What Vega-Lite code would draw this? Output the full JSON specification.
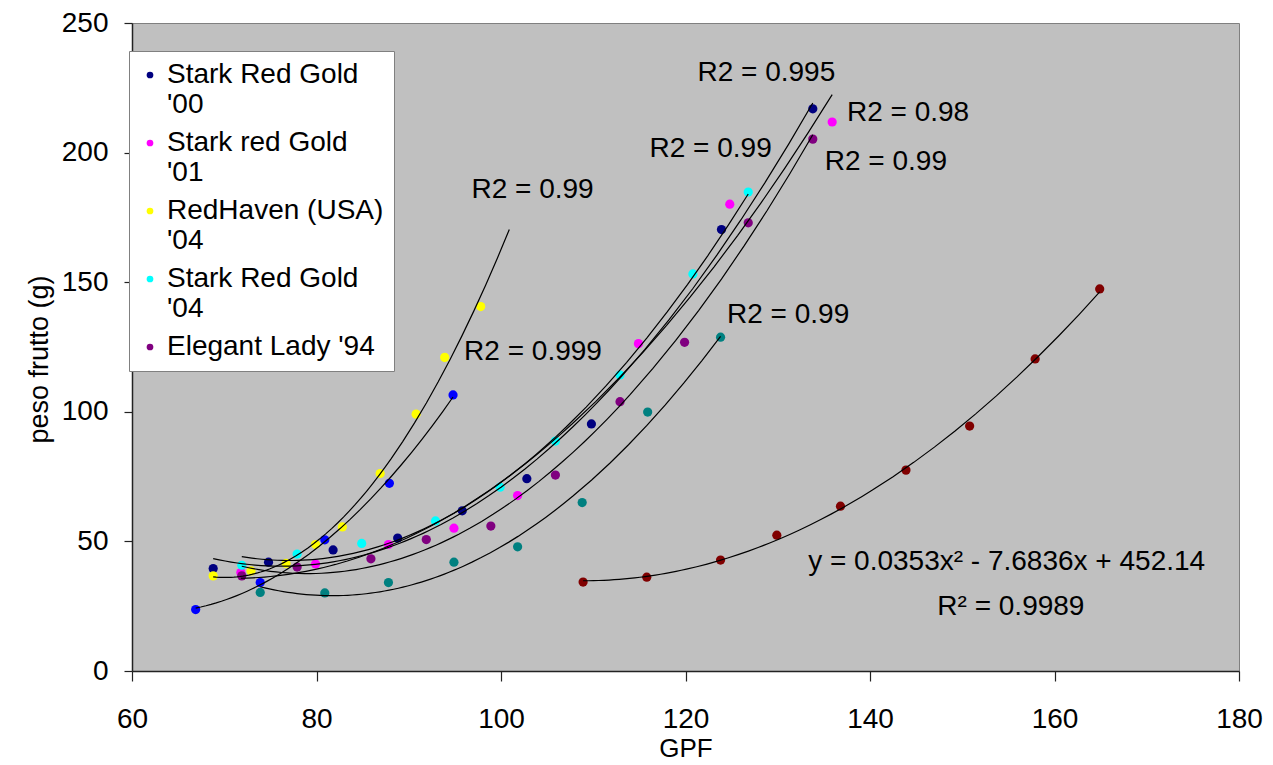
{
  "$schema": "https://vega.github.io/schema/vega-lite/v6.json",
  "width": 1107,
  "height": 648,
  "autosize": "none",
  "padding": {"left": 132, "top": 23, "right": 34, "bottom": 94},
  "background": "white",
  "config": {
    "view": {"fill": "#C0C0C0", "stroke": "#808080", "strokeWidth": 1},
    "font": "Liberation Sans",
    "axis": {
      "grid": false,
      "labelFont": "Liberation Sans",
      "labelFontSize": 28,
      "labelColor": "black",
      "titleFont": "Liberation Sans",
      "titleFontWeight": "normal",
      "titleColor": "black",
      "domainColor": "#222222",
      "tickColor": "#222222",
      "domainWidth": 1.5,
      "tickWidth": 1.2
    }
  },
  "datasets": {
    "points": [
      {"series": "Stark Red Gold '00", "x": 68.8, "y": 39.5},
      {"series": "Stark Red Gold '00", "x": 74.8, "y": 42.0},
      {"series": "Stark Red Gold '00", "x": 81.8, "y": 46.7},
      {"series": "Stark Red Gold '00", "x": 88.8, "y": 51.3},
      {"series": "Stark Red Gold '00", "x": 95.8, "y": 61.8},
      {"series": "Stark Red Gold '00", "x": 102.8, "y": 74.2},
      {"series": "Stark Red Gold '00", "x": 109.8, "y": 95.3},
      {"series": "Stark Red Gold '00", "x": 123.9, "y": 170.3},
      {"series": "Stark Red Gold '00", "x": 133.8, "y": 216.9},
      {"series": "Stark red Gold '01", "x": 71.8, "y": 38.0},
      {"series": "Stark red Gold '01", "x": 79.9, "y": 41.3},
      {"series": "Stark red Gold '01", "x": 87.8, "y": 48.8},
      {"series": "Stark red Gold '01", "x": 94.9, "y": 55.1},
      {"series": "Stark red Gold '01", "x": 101.8, "y": 67.7},
      {"series": "Stark red Gold '01", "x": 114.9, "y": 126.3},
      {"series": "Stark red Gold '01", "x": 124.8, "y": 180.1},
      {"series": "Stark red Gold '01", "x": 135.9, "y": 211.8},
      {"series": "RedHaven (USA) '04", "x": 68.8, "y": 36.7},
      {"series": "RedHaven (USA) '04", "x": 72.9, "y": 38.6},
      {"series": "RedHaven (USA) '04", "x": 76.7, "y": 41.5},
      {"series": "RedHaven (USA) '04", "x": 79.9, "y": 48.8},
      {"series": "RedHaven (USA) '04", "x": 82.8, "y": 55.6},
      {"series": "RedHaven (USA) '04", "x": 86.9, "y": 76.2},
      {"series": "RedHaven (USA) '04", "x": 90.8, "y": 99.1},
      {"series": "RedHaven (USA) '04", "x": 93.9, "y": 121.0},
      {"series": "RedHaven (USA) '04", "x": 97.8, "y": 140.6},
      {"series": "Stark Red Gold '04", "x": 71.9, "y": 40.8},
      {"series": "Stark Red Gold '04", "x": 77.9, "y": 45.1},
      {"series": "Stark Red Gold '04", "x": 84.9, "y": 49.2},
      {"series": "Stark Red Gold '04", "x": 92.9, "y": 57.9},
      {"series": "Stark Red Gold '04", "x": 99.9, "y": 70.9},
      {"series": "Stark Red Gold '04", "x": 105.9, "y": 88.7},
      {"series": "Stark Red Gold '04", "x": 112.9, "y": 114.2},
      {"series": "Stark Red Gold '04", "x": 120.8, "y": 153.2},
      {"series": "Stark Red Gold '04", "x": 126.8, "y": 184.8},
      {"series": "Elegant Lady '94", "x": 71.9, "y": 36.7},
      {"series": "Elegant Lady '94", "x": 77.9, "y": 40.1},
      {"series": "Elegant Lady '94", "x": 85.9, "y": 43.3},
      {"series": "Elegant Lady '94", "x": 91.9, "y": 50.7},
      {"series": "Elegant Lady '94", "x": 98.9, "y": 55.9},
      {"series": "Elegant Lady '94", "x": 105.9, "y": 75.6},
      {"series": "Elegant Lady '94", "x": 112.9, "y": 103.9},
      {"series": "Elegant Lady '94", "x": 119.9, "y": 126.8},
      {"series": "Elegant Lady '94", "x": 126.8, "y": 172.9},
      {"series": "Elegant Lady '94", "x": 133.8, "y": 205.2},
      {"series": "Serie 6", "x": 66.9, "y": 23.7},
      {"series": "Serie 6", "x": 73.9, "y": 34.1},
      {"series": "Serie 6", "x": 80.9, "y": 50.6},
      {"series": "Serie 6", "x": 87.9, "y": 72.4},
      {"series": "Serie 6", "x": 94.8, "y": 106.5},
      {"series": "Serie 7", "x": 73.9, "y": 30.3},
      {"series": "Serie 7", "x": 80.9, "y": 30.1},
      {"series": "Serie 7", "x": 87.8, "y": 34.1},
      {"series": "Serie 7", "x": 94.9, "y": 42.0},
      {"series": "Serie 7", "x": 101.8, "y": 47.9},
      {"series": "Serie 7", "x": 108.8, "y": 65.0},
      {"series": "Serie 7", "x": 115.9, "y": 99.9},
      {"series": "Serie 7", "x": 123.8, "y": 128.8},
      {"series": "Serie 8", "x": 108.9, "y": 34.3},
      {"series": "Serie 8", "x": 115.8, "y": 36.2},
      {"series": "Serie 8", "x": 123.8, "y": 42.8},
      {"series": "Serie 8", "x": 129.9, "y": 52.4},
      {"series": "Serie 8", "x": 136.8, "y": 63.6},
      {"series": "Serie 8", "x": 143.9, "y": 77.5},
      {"series": "Serie 8", "x": 150.8, "y": 94.5},
      {"series": "Serie 8", "x": 157.9, "y": 120.4},
      {"series": "Serie 8", "x": 164.9, "y": 147.4}
    ],
    "labels": [
      {"label": "R2 = 0.995", "x": 121.3, "y": 230.7},
      {"label": "R2 = 0.98", "x": 137.5, "y": 215.4},
      {"label": "R2 = 0.99", "x": 116.1, "y": 201.5},
      {"label": "R2 = 0.99", "x": 135.1, "y": 196.3},
      {"label": "R2 = 0.99", "x": 96.8, "y": 185.7},
      {"label": "R2 = 0.999", "x": 96.0, "y": 123.2},
      {"label": "R2 = 0.99", "x": 124.5, "y": 137.4},
      {"label": "y = 0.0353x² - 7.6836x + 452.14", "x": 133.3, "y": 42.0},
      {"label": "R² = 0.9989", "x": 147.3, "y": 24.7}
    ]
  },
  "encoding": {
    "x": {
      "field": "x",
      "type": "quantitative",
      "scale": {"domain": [60, 180], "nice": false, "zero": false},
      "axis": {
        "values": [60, 80, 100, 120, 140, 160, 180],
        "title": "GPF",
        "titleFontSize": 26,
        "titleBaseline": "middle",
        "titleY": 77,
        "tickSize": 10,
        "labelPadding": 24,
        "labelFlush": false
      }
    },
    "y": {
      "field": "y",
      "type": "quantitative",
      "scale": {"domain": [0, 250], "nice": false, "zero": false},
      "axis": {
        "values": [0, 50, 100, 150, 200, 250],
        "title": "peso frutto (g)",
        "titleFontSize": 27,
        "titleBaseline": "bottom",
        "titleX": -79,
        "titleY": 336,
        "tickSize": 8,
        "labelPadding": 16,
        "labelFlush": false
      }
    }
  },
  "layer": [
    {
      "data": {"name": "points"},
      "mark": {"type": "point", "filled": true, "size": 85, "opacity": 1},
      "encoding": {
        "color": {
          "field": "series",
          "type": "nominal",
          "scale": {
            "domain": ["Stark Red Gold '00", "Stark red Gold '01", "RedHaven (USA) '04", "Stark Red Gold '04", "Elegant Lady '94", "Serie 6", "Serie 7", "Serie 8"],
            "range": ["#000080", "#FF00FF", "#FFFF00", "#00FFFF", "#800080", "#0000FF", "#008080", "#800000"]
          },
          "legend": {
            "values": ["Stark Red Gold '00", "Stark red Gold '01", "RedHaven (USA) '04", "Stark Red Gold '04", "Elegant Lady '94"],
            "orient": "none",
            "legendX": -3,
            "legendY": 28,
            "title": null,
            "fillColor": "white",
            "strokeColor": "#808080",
            "padding": 10,
            "symbolType": "circle",
            "symbolSize": 45,
            "symbolStrokeWidth": 0,
            "symbolOffset": -3,
            "labelFont": "Liberation Sans",
            "labelFontSize": 28,
            "labelColor": "black",
            "labelLimit": 400,
            "labelOffset": 3,
            "labelBaseline": "middle",
            "rowPadding": 10,
            "labelExpr": "indexof(datum.label, 'Elegant') == 0 ? datum.label : [substring(datum.label, 0, lastindexof(datum.label, ' ')), substring(datum.label, lastindexof(datum.label, ' ') + 1)]"
          }
        }
      }
    },
    {
      "data": {"name": "points"},
      "transform": [
        {"filter": "datum.series != \"RedHaven (USA) '04\""},
        {"regression": "y", "on": "x", "groupby": ["series"], "method": "poly", "order": 2}
      ],
      "mark": {"type": "line", "color": "black", "strokeWidth": 1.2},
      "encoding": {"detail": {"field": "series", "type": "nominal"}}
    },
    {
      "data": {"name": "points"},
      "transform": [
        {"filter": "datum.series == \"RedHaven (USA) '04\""},
        {"regression": "y", "on": "x", "method": "poly", "order": 2, "extent": [68.8, 100.9]}
      ],
      "mark": {"type": "line", "color": "black", "strokeWidth": 1.2},
      "encoding": {}
    },
    {
      "data": {"name": "labels"},
      "mark": {"type": "text", "align": "left", "baseline": "middle", "font": "Liberation Sans", "fontSize": 28, "color": "black"},
      "encoding": {"text": {"field": "label", "type": "nominal"}}
    }
  ]
}
